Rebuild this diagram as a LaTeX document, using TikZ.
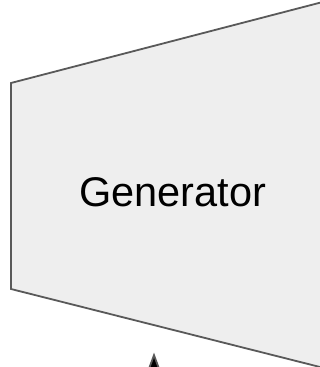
\documentclass[tikz,border=0pt]{standalone}
\usepackage{fontspec}
\setmainfont{Liberation Sans}
\usetikzlibrary{arrows.meta}
\definecolor{edgegray}{HTML}{595959}
\definecolor{blockfill}{HTML}{EEEEEE}

\begin{document}
\begin{tikzpicture}[x=1pt,y=1pt,
	block/.style={draw=edgegray,fill=blockfill,line width=1.8pt,line join=miter},
	label/.style={font=\fontsize{41.5}{50}\selectfont,inner sep=0pt}]
\useasboundingbox (0,0) rectangle (320,367);
\clip (0,0) rectangle (320,367);
% the widening block, running off to the right
\path[block] (11,284) -- (11,78) -- (335,-3.8) -- (335,368.2) -- cycle;
\node[label,anchor=base] (gen) at (172.5,160) {Generator};
\coordinate (noise) at (154,-30);
\coordinate (gin) at (154,14.5);
\path[-{Triangle[width=12pt,length=17pt]},draw=edgegray,line width=1.8pt]
(noise) edge (gin);
\end{tikzpicture}
\end{document}
